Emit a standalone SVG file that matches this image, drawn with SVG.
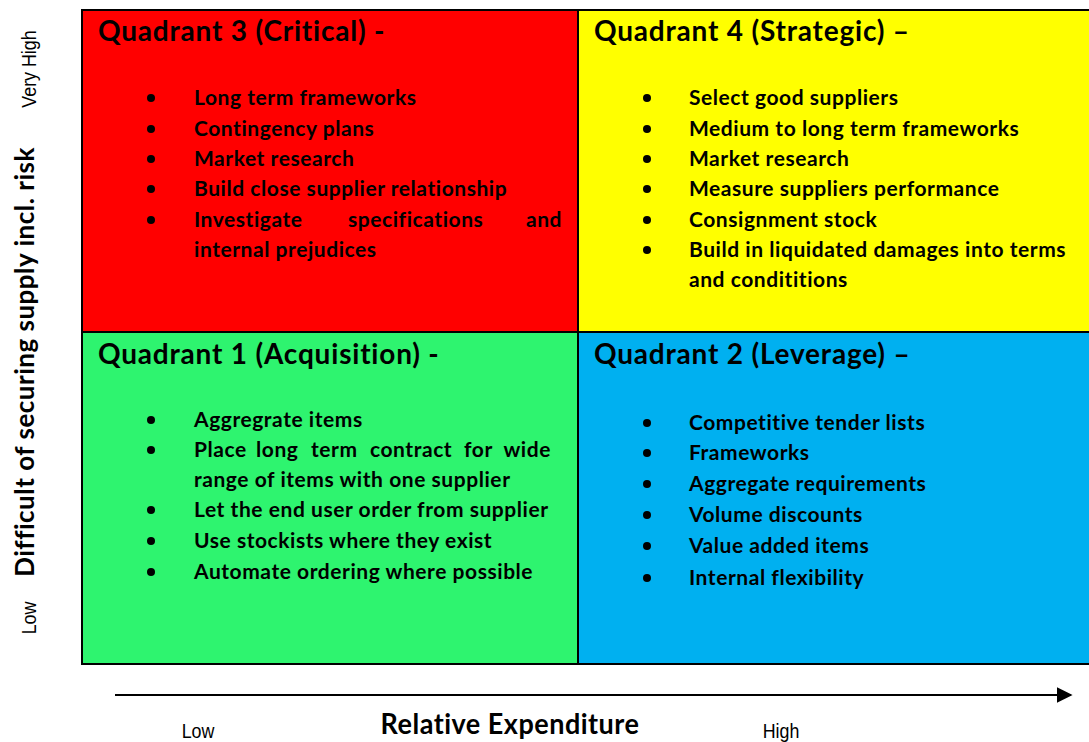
<svg xmlns="http://www.w3.org/2000/svg" width="1089" height="742" viewBox="0 0 1089 742">
<style>
.t{font-family:Lato,"Open Sans","Liberation Sans",sans-serif;font-weight:700;font-size:28px;letter-spacing:0.8px;fill:#000}
.b{font-family:Lato,"Open Sans","Liberation Sans",sans-serif;font-weight:700;font-size:21px;letter-spacing:0.55px;fill:#000}
.dot{fill:#000}
.q{stroke:#000;stroke-width:2}
.ax{font-family:Lato,"Open Sans","Liberation Sans",sans-serif;font-weight:700;font-size:26px;letter-spacing:0.5px;fill:#000}
.sm{font-family:"Liberation Sans",Arial,sans-serif;font-weight:400;font-size:21px;fill:#000}
</style>
<defs>
<marker id="arr" viewBox="0 0 10 10" refX="9" refY="5" markerWidth="16" markerHeight="16" markerUnits="userSpaceOnUse" orient="auto">
<path d="M0,0 L10,5 L0,10 z" fill="#000"/>
</marker>
</defs>
<rect x="0" y="0" width="1089" height="742" fill="#fff"/>

<g id="q3">
<rect class="q" x="82" y="10" width="496" height="322" fill="#FF0000"/>
<text class="t" x="98" y="41">Quadrant 3 (Critical) -</text>
<circle class="dot" cx="151" cy="98" r="4"/><text class="b" x="194" y="105">Long term frameworks</text>
<circle class="dot" cx="151" cy="129" r="4"/><text class="b" x="194" y="136">Contingency plans</text>
<circle class="dot" cx="151" cy="159" r="4"/><text class="b" x="194" y="166">Market research</text>
<circle class="dot" cx="151" cy="189" r="4"/><text class="b" x="194" y="196">Build close supplier relationship</text>
<circle class="dot" cx="151" cy="220" r="4"/><text class="b" x="194" y="227">Investigate</text><text class="b" x="348" y="227">specifications</text><text class="b" x="562" y="227" text-anchor="end">and</text>
<text class="b" x="194" y="257">internal prejudices</text>
</g>

<g id="q4">
<rect class="q" x="578" y="10" width="515" height="322" fill="#FFFF00"/>
<text class="t" x="594" y="41">Quadrant 4 (Strategic) –</text>
<circle class="dot" cx="647" cy="98" r="4"/><text class="b" x="689" y="105">Select good suppliers</text>
<circle class="dot" cx="647" cy="129" r="4"/><text class="b" x="689" y="136">Medium to long term frameworks</text>
<circle class="dot" cx="647" cy="159" r="4"/><text class="b" x="689" y="166">Market research</text>
<circle class="dot" cx="647" cy="189" r="4"/><text class="b" x="689" y="196">Measure suppliers performance</text>
<circle class="dot" cx="647" cy="220" r="4"/><text class="b" x="689" y="227">Consignment stock</text>
<circle class="dot" cx="647" cy="250" r="4"/><text class="b" x="689" y="257">Build in liquidated damages into terms</text>
<text class="b" x="689" y="287">and condititions</text>
</g>

<g id="q1">
<rect class="q" x="82" y="332" width="496" height="332" fill="#2EF46F"/>
<text class="t" x="98" y="364">Quadrant 1 (Acquisition) -</text>
<circle class="dot" cx="151" cy="420" r="4"/><text class="b" x="194" y="427">Aggregrate items</text>
<circle class="dot" cx="151" cy="450" r="4"/><text class="b" x="194" y="457">Place</text><text class="b" x="256" y="457">long</text><text class="b" x="311" y="457">term</text><text class="b" x="370" y="457">contract</text><text class="b" x="464" y="457">for</text><text class="b" x="551" y="457" text-anchor="end">wide</text>
<text class="b" x="194" y="487">range of items with one supplier</text>
<circle class="dot" cx="151" cy="510" r="4"/><text class="b" x="194" y="517">Let the end user order from supplier</text>
<circle class="dot" cx="151" cy="541" r="4"/><text class="b" x="194" y="548">Use stockists where they exist</text>
<circle class="dot" cx="151" cy="572" r="4"/><text class="b" x="194" y="579">Automate ordering where possible</text>
</g>

<g id="q2">
<rect class="q" x="578" y="332" width="515" height="332" fill="#00B0F0"/>
<text class="t" x="594" y="364">Quadrant 2 (Leverage) –</text>
<circle class="dot" cx="647" cy="423" r="4"/><text class="b" x="689" y="430">Competitive tender lists</text>
<circle class="dot" cx="647" cy="453" r="4"/><text class="b" x="689" y="460">Frameworks</text>
<circle class="dot" cx="647" cy="484" r="4"/><text class="b" x="689" y="491">Aggregate requirements</text>
<circle class="dot" cx="647" cy="515" r="4"/><text class="b" x="689" y="522">Volume discounts</text>
<circle class="dot" cx="647" cy="546" r="4"/><text class="b" x="689" y="553">Value added items</text>
<circle class="dot" cx="647" cy="578" r="4"/><text class="b" x="689" y="585">Internal flexibility</text>
</g>

<g id="connectors">
<line x1="115" y1="695" x2="1071" y2="695" stroke="#000" stroke-width="2" marker-end="url(#arr)"/>
</g>

<g id="axes">
<text class="ax" transform="translate(34,362) rotate(-90)" text-anchor="middle">Difficult of securing supply incl. risk</text>
<text class="sm" transform="translate(36,69) rotate(-90) scale(0.85,1)" text-anchor="middle">Very High</text>
<text class="sm" transform="translate(36,618) rotate(-90) scale(0.85,1)" text-anchor="middle">Low</text>
<text class="sm" transform="translate(198,738) scale(0.85,1)" text-anchor="middle">Low</text>
<text class="ax" transform="translate(510,734) scale(1,1.05)" text-anchor="middle" style="font-size:27px">Relative Expenditure</text>
<text class="sm" transform="translate(781,738) scale(0.85,1)" text-anchor="middle">High</text>
</g>
</svg>
